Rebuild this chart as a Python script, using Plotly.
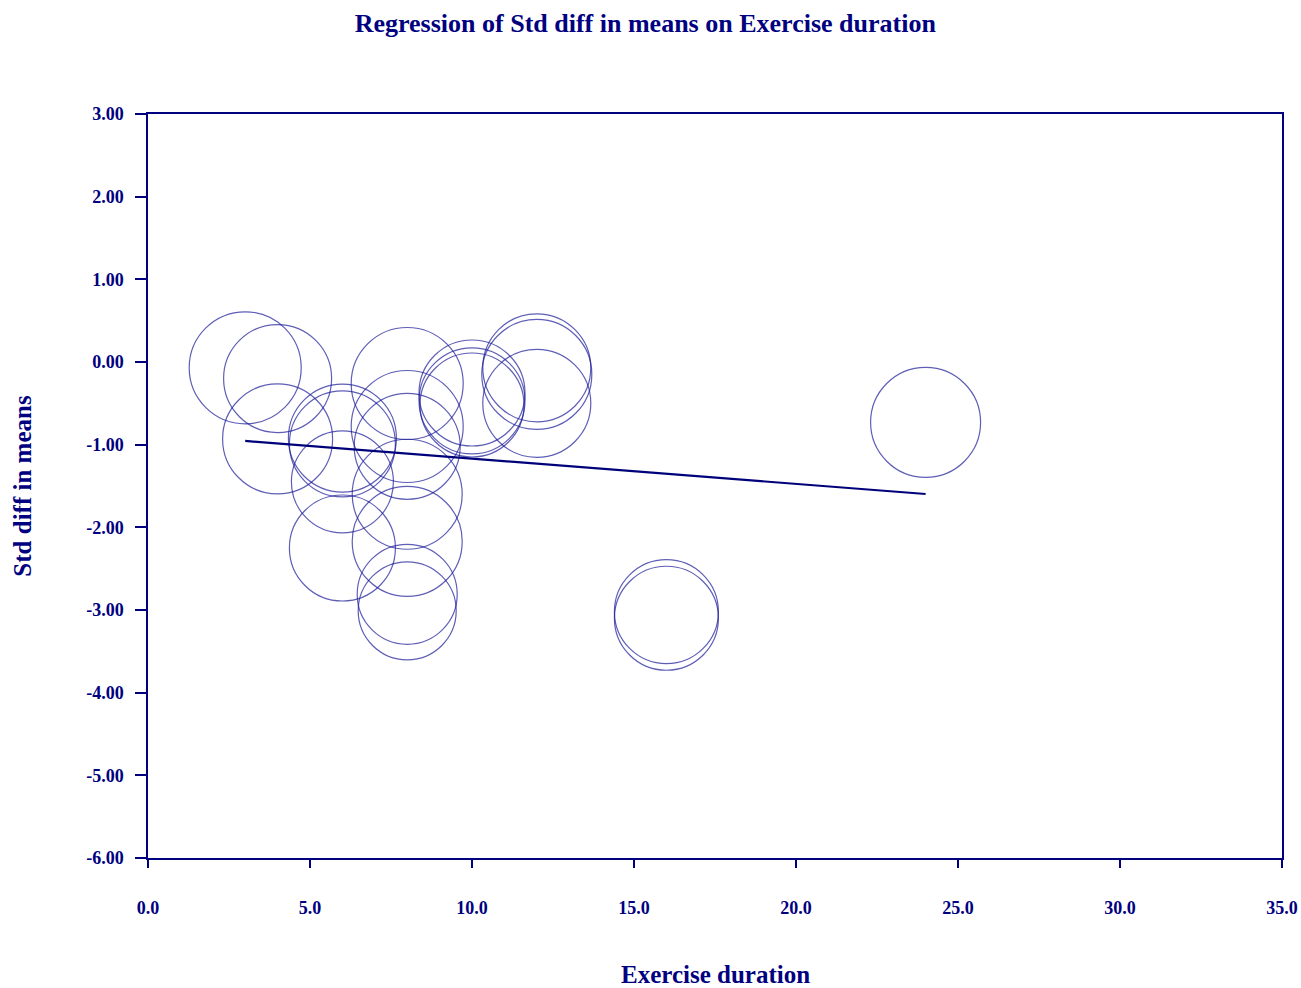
import plotly.graph_objects as go

# Data
exercise_duration = [3, 4, 4, 6, 6, 6, 6, 8, 8, 8, 8, 8, 8, 8, 10, 10, 10, 12, 12, 12, 16, 16, 24]
std_diff_means = [-0.07, -0.20, -0.93, -0.92, -0.99, -1.45, -2.25,
                  -0.26, -0.78, -1.02, -1.60, -2.17, -2.81, -3.01,
                  -0.375, -0.47, -0.52, -0.07, -0.15, -0.50,
                  -3.02, -3.10, -0.73]
study_weight = [56, 54, 55, 54, 53, 51, 53,
                56, 56, 53, 55, 55, 50, 49,
                53, 53, 52, 54, 55, 54,
                52, 52, 55]
reg_x = [3, 24]
reg_y = [-0.955, -1.597]

x_ticks = [0, 5, 10, 15, 20, 25, 30, 35]
x_tick_labels = ["0.0", "5.0", "10.0", "15.0", "20.0", "25.0", "30.0", "35.0"]
y_ticks = [3, 2, 1, 0, -1, -2, -3, -4, -5, -6]
y_tick_labels = ["3.00", "2.00", "1.00", "0.00", "-1.00", "-2.00", "-3.00", "-4.00", "-5.00", "-6.00"]

NAVY = "#000080"
FONT = "Liberation Serif"

fig = go.Figure()
fig.add_trace(go.Scatter(
    x=exercise_duration, y=std_diff_means, mode="markers",
    marker=dict(symbol="circle-open", size=[2 * w for w in study_weight],
                color="#1a1a99", line=dict(width=1.2, color="#1a1a99")),
    showlegend=False, hoverinfo="x+y"))
fig.add_trace(go.Scatter(
    x=reg_x, y=reg_y, mode="lines",
    line=dict(color="#00007a", width=2.2), showlegend=False))

fig.update_layout(
    width=1301, height=988,
    margin=dict(l=148, r=19, t=114, b=130, autoexpand=False),
    paper_bgcolor="white", plot_bgcolor="white",
    font=dict(family=FONT, color=NAVY),
    title=dict(text="<b>Regression of Std diff in means on Exercise duration</b>",
               x=0.496, xref="container", xanchor="center",
               y=1 - 23 / 988, yref="container", yanchor="middle",
               font=dict(family=FONT, size=26, color=NAVY)),
    annotations=[dict(text="<b>Exercise duration</b>", xref="paper", yref="paper",
                      x=0.5, y=-(974 - 858) / 744, xanchor="center", yanchor="middle",
                      showarrow=False, borderpad=0,
                      font=dict(family=FONT, size=25, color=NAVY))],
)
fig.update_xaxes(
    range=[0, 35], tickvals=x_ticks, ticktext=["<b>%s</b>" % t for t in x_tick_labels],
    automargin=False,
    showgrid=False, zeroline=False, showline=True, linecolor=NAVY, linewidth=1.5,
    mirror=True, ticks="outside", ticklen=8, tickcolor=NAVY, tickwidth=1.5,
    tickfont=dict(family=FONT, size=18, color=NAVY), ticklabelstandoff=25)
fig.update_yaxes(
    range=[-6, 3], tickvals=y_ticks, ticktext=["<b>%s</b>" % t for t in y_tick_labels],
    automargin=False,
    showgrid=False, zeroline=False, showline=True, linecolor=NAVY, linewidth=1.5,
    mirror=True, ticks="outside", ticklen=11, tickcolor=NAVY, tickwidth=1.5,
    tickfont=dict(family=FONT, size=18, color=NAVY), ticklabelstandoff=8,
    title=dict(text="<b>Std diff in means</b>", font=dict(family=FONT, size=25, color=NAVY),
               standoff=47))

fig.write_html("out.html", config={"displayModeBar": False},
               post_script="document.body.style.margin='0';")
